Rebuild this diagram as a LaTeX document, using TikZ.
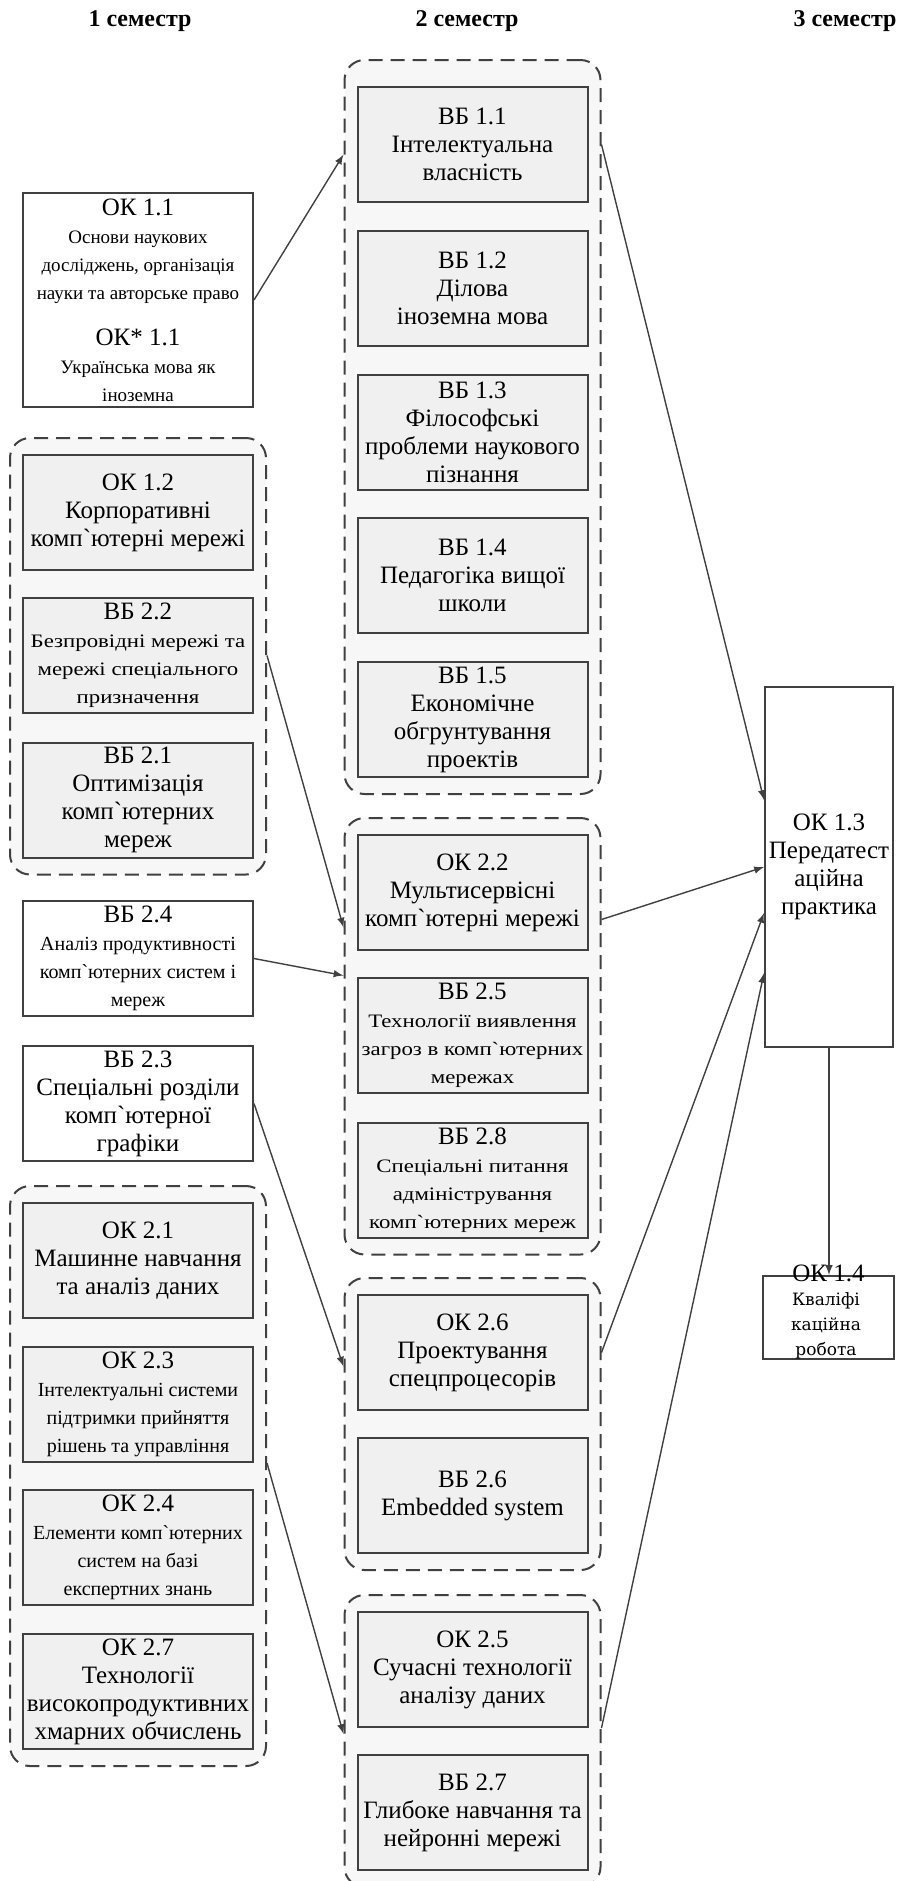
\documentclass[tikz,border=0pt]{standalone}
\usepackage{fontspec}
\setmainfont{Liberation Serif}
\newfontfamily\basefont{Liberation Serif}
\newfontfamily\widefont{Liberation Serif}[FakeStretch=1.2]
\newfontfamily\slabfont{DejaVu Serif}
\usetikzlibrary{calc,arrows,fit,backgrounds}
\definecolor{linegray}{HTML}{404040}
\definecolor{boxgray}{HTML}{F0F0F0}
\definecolor{grpgray}{HTML}{F7F7F7}
\newcommand{\bgtxt}{\basefont\fontsize{12.5}{14}\selectfont}
\newcommand{\smtxt}{\basefont\fontsize{10}{11.5}\selectfont}
\newcommand{\smwide}{\widefont\fontsize{9.5}{11}\selectfont}
\newcommand{\smtight}{\basefont\fontsize{9.5}{10}\selectfont}

\begin{document}
\begin{tikzpicture}
	[   x=0.5pt,y=-0.5pt,
		cbox/.style={draw=linegray,line width=1pt,fill=#1,minimum width=115pt,minimum height=57.5pt,align=center,inner sep=0.5pt,font=\bgtxt},
		cbox/.default=white,
		grp/.style={draw=linegray,line width=1pt,dash pattern=on 7pt off 4pt,rounded corners=10pt,fill=grpgray,inner xsep=6pt,inner ysep=8pt},
		head/.style={font=\bfseries\fontsize{12}{14}\selectfont},
	]
	\tikzset{normal arrow/.style={draw=linegray,line width=0.7pt,-latex}}
	\useasboundingbox (0,0) rectangle (896,1881);
	
	\node[head] (h1) at (140,21) {1 семестр};
	\node[head] (h2) at (467,21) {2 семестр};
	\node[head] (h3) at (845,21) {3 семестр};
	
	% 1 семестр
	\node[cbox,minimum height=107pt] (ok11) at (138,300) {ОК 1.1\\\smtight Основи наукових\\\smtight досліджень, організація\\\smtight науки та авторське право\\[9pt]ОК* 1.1\\\smtight Українська мова як\\\smtight іноземна};
	\node[cbox=boxgray] (ok12) at (138,512.5) {ОК 1.2\\Корпоративні\\комп`ютерні мережі};
	\node[cbox=boxgray] (vb22) at (138,655.5) {ВБ 2.2\\\smwide Безпровідні мережі та\\\smwide мережі спеціального\\\smwide призначення};
	\node[cbox=boxgray] (vb21) at (138,800) {ВБ 2.1\\Оптимізація\\комп`ютерних\\мереж};
	\node[cbox] (vb24) at (138,958.5) {ВБ 2.4\\\smtxt Аналіз продуктивності\\\smtxt комп`ютерних систем і\\\smtxt мереж};
	\node[cbox] (vb23) at (138,1103.5) {ВБ 2.3\\Спеціальні розділи\\комп`ютерної\\графіки};
	\node[cbox=boxgray] (ok21) at (138,1260.5) {ОК 2.1\\Машинне навчання\\та аналіз даних};
	\node[cbox=boxgray] (ok23) at (138,1404.5) {ОК 2.3\\\smtxt Інтелектуальні системи\\\smtxt підтримки прийняття\\\smtxt рішень та управління};
	\node[cbox=boxgray] (ok24) at (138,1547.5) {ОК 2.4\\\smtxt Елементи комп`ютерних\\\smtxt систем на базі\\\smtxt експертних знань};
	\node[cbox=boxgray] (ok27) at (138,1691.5) {ОК 2.7\\Технології\\високопродуктивних\\хмарних обчислень};
	
	% 2 семестр
	\foreach \i/\txt in {1/{Інтелектуальна\\власність},2/{Ділова\\іноземна мова},3/{Філософські\\проблеми наукового\\пізнання},4/{Педагогіка вищої\\школи},5/{Економічне\\обгрунтування\\проектів}}
	{
		\node[cbox=boxgray] (vb1-\i) at (472.5,{144.5+143.75*(\i-1)}) {ВБ 1.\i\\\txt};
	}
	\node[cbox=boxgray] (ok22) at (472.5,892.5) {ОК 2.2\\Мультисервісні\\комп`ютерні мережі};
	\node[cbox=boxgray] (vb25) at (472.5,1035.5) {ВБ 2.5\\\smwide Технології виявлення\\\smwide загроз в комп`ютерних\\\smwide мережах};
	\node[cbox=boxgray] (vb28) at (472.5,1180) {ВБ 2.8\\\smwide Спеціальні питання\\\smwide адміністрування\\\smwide комп`ютерних мереж};
	\node[cbox=boxgray] (ok26) at (472.5,1352.5) {ОК 2.6\\Проектування\\спецпроцесорів};
	\node[cbox=boxgray] (vb26) at (472.5,1495.5) {ВБ 2.6\\Embedded system};
	\node[cbox=boxgray] (ok25) at (472.5,1669.5) {ОК 2.5\\Сучасні технології\\аналізу даних};
	\node[cbox=boxgray] (vb27) at (472.5,1812.5) {ВБ 2.7\\Глибоке навчання та\\нейронні мережі};
	\coordinate (a-top) at (472.5,76);
	
	% 3 семестр
	\node[cbox,minimum width=64pt,minimum height=180pt] (ok13) at (829,867) {ОК 1.3\\Передатест\\аційна\\практика};
	\node[cbox,minimum width=65.5pt,minimum height=41.5pt] (ok14) at (828.5,1317.5) {};
	\node[font=\bgtxt,inner sep=0pt] (ok14-t) at (828.5,1273) {ОК 1.4};
	\node[font=\slabfont\fontsize{8.5}{12.5}\selectfont,align=center,inner sep=0pt] (ok14-d) at (826,1326) {Кваліфі\\кацiйна\\робота};
	
	\begin{scope}[on background layer]
		\node[grp,fit=(ok12)(vb21)] (grp-l1) {};
		\node[grp,fit=(ok21)(ok27)] (grp-l2) {};
		\node[grp,fit=(a-top)(vb1-1)(vb1-5)] (grp-a) {};
		\node[grp,fit=(ok22)(vb28)] (grp-b) {};
		\node[grp,fit=(ok26)(vb26)] (grp-c) {};
		\node[grp,fit=(ok25)(vb27)] (grp-d) {};
	\end{scope}
	
	\path[normal arrow] (ok11.east) -- ($(grp-a.west |- vb1-1)+(0,10)$);
	\path[normal arrow] (grp-a.east |- vb1-1) -- ($(ok13.west)+(0,-67)$);
	\path[normal arrow] (grp-l1.east |- vb22) -- ($(grp-b.west |- ok22)+(0,35)$);
	\path[normal arrow] (vb24.east) -- ($(grp-b.west |- vb24)+(0,17)$);
	\path[normal arrow] ($(grp-b.east |- ok22)+(0,27)$) -- (ok13.west);
	\path[normal arrow] (vb23.east) -- ($(grp-c.west |- ok26)+(0,14)$);
	\path[normal arrow] (grp-c.east |- ok26) -- ($(ok13.west)+(0,46)$);
	\path[normal arrow] (grp-l2.east |- ok23.south) -- ($(grp-d.west |- ok25.south)+(0,6)$);
	\path[normal arrow] (grp-d.east |- ok25.south) -- ($(ok13.west)+(0,106)$);
	\path[normal arrow] (ok13.south) -- (ok13.south |- ok14.north);
\end{tikzpicture}
\end{document}
